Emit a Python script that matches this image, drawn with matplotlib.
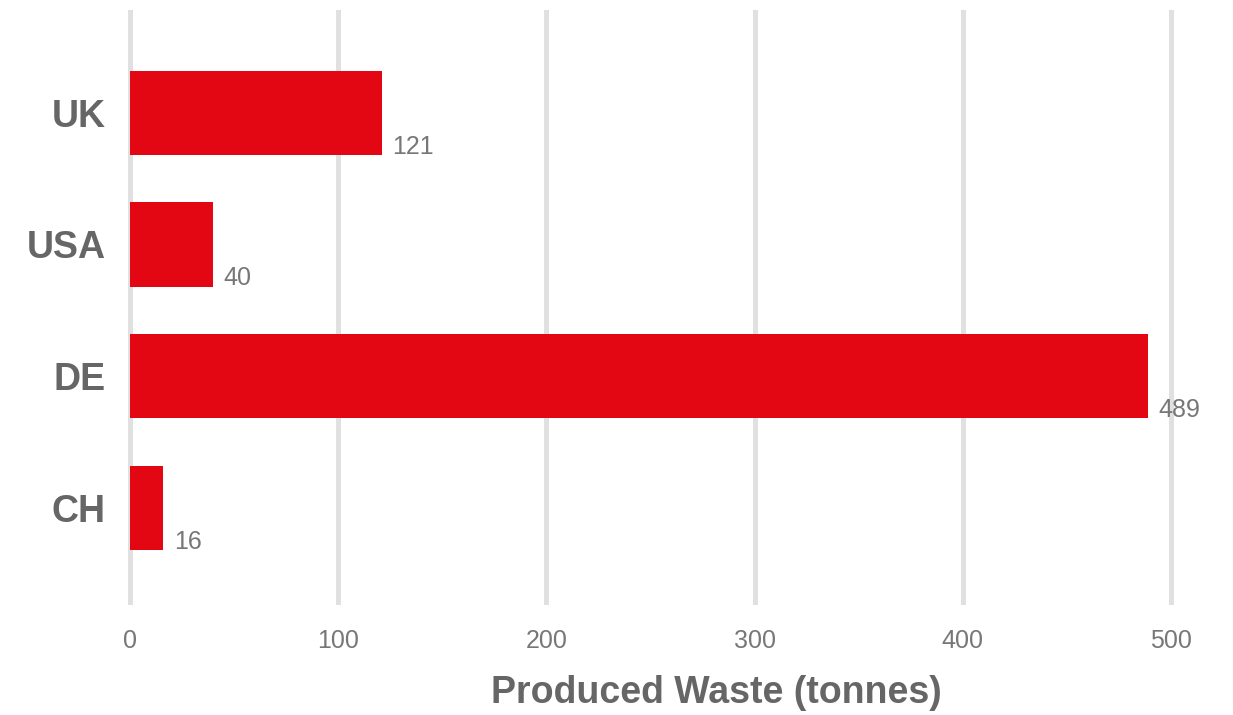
import matplotlib.pyplot as plt

countries = ["UK", "USA", "DE", "CH"]
waste = [121, 40, 489, 16]
ticks = [0, 100, 200, 300, 400, 500]

plt.rcParams['font.family'] = ['Liberation Sans', 'DejaVu Sans']

fig = plt.figure(figsize=(12.33, 7.15), dpi=100)
ax = fig.add_axes([0.1004, 0.1538, 0.883, 0.832])

pos = list(range(len(countries)))
bar_h = 0.64
ax.barh(pos, waste, height=bar_h, color="#e30613", zorder=2)

# value labels at the lower right of each bar
for y, v in zip(pos, waste):
    ax.text(v + 5, y + bar_h / 2 + 0.03, str(v), ha="left", va="bottom",
            fontsize=18, color="#777777")

ax.set_xlim(-3, 520)
ax.set_ylim(3.74, -0.78)
ax.set_xticks(ticks)
ax.set_xticklabels([str(t) for t in ticks])
ax.set_yticks(pos)
ax.set_yticklabels(countries, fontsize=27, fontweight="bold", color="#666666")
ax.tick_params(axis="x", length=0, pad=17.5, labelsize=18, labelcolor="#777777")
ax.tick_params(axis="y", length=0, pad=13)

ax.grid(axis="x", color="#e0e0e0", linewidth=3.6, zorder=0)
ax.set_axisbelow(True)
for s in ax.spines.values():
    s.set_visible(False)

fig.text(716 / 1233, 1 - 693 / 715, "Produced Waste (tonnes)", ha="center",
         va="center", fontsize=27, fontweight="bold", color="#666666")

plt.savefig("out.png", dpi=100)
